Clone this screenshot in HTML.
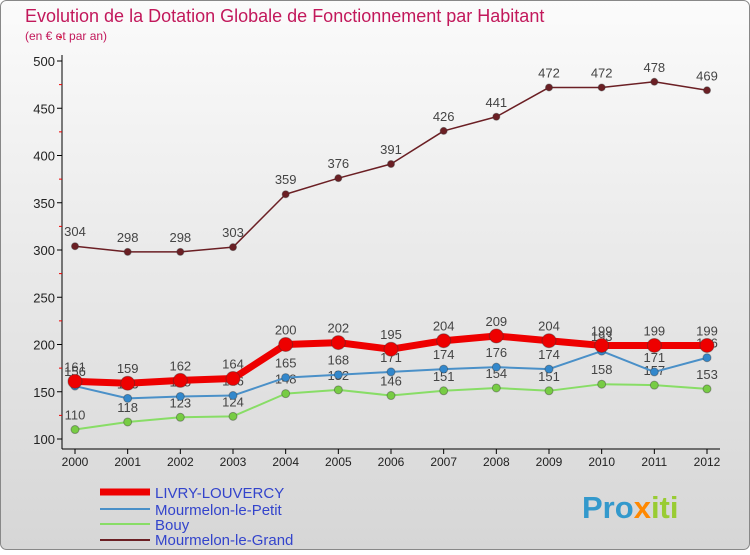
<!DOCTYPE html>
<html><head><meta charset="utf-8"><style>
body{margin:0;width:750px;height:550px;overflow:hidden;font-family:"Liberation Sans",sans-serif}
</style></head><body>
<svg width="750" height="550" xmlns="http://www.w3.org/2000/svg">
<defs><linearGradient id="bg" x1="0" y1="0" x2="0" y2="1"><stop offset="0" stop-color="#fbfbfb"/><stop offset="1" stop-color="#d6d6d6"/></linearGradient></defs>
<rect x="0.5" y="0.5" width="749" height="549" rx="6" fill="url(#bg)" stroke="#888"/>
<text x="25" y="22" font-size="18" fill="#c2185b">Evolution de la Dotation Globale de Fonctionnement par Habitant</text>
<text x="25" y="40" font-size="12" fill="#c2185b">(en € et par an)</text>
<g id="axes"></g><g id="series"></g>
<g>
<line x1="100" y1="492" x2="150" y2="492" stroke="#ee0000" stroke-width="7"/>
<text x="155" y="498" font-size="15" fill="#3344cc">LIVRY-LOUVERCY</text>
<line x1="100" y1="509" x2="150" y2="509" stroke="#4a90c8" stroke-width="2"/>
<text x="155" y="515" font-size="15" fill="#3344cc">Mourmelon-le-Petit</text>
<line x1="100" y1="524" x2="150" y2="524" stroke="#88dd66" stroke-width="2"/>
<text x="155" y="530" font-size="15" fill="#3344cc">Bouy</text>
<line x1="100" y1="540" x2="150" y2="540" stroke="#6b1f24" stroke-width="2"/>
<text x="155" y="545" font-size="15" fill="#3344cc">Mourmelon-le-Grand</text>
</g>
<text x="582" y="518" font-size="31" font-weight="bold" fill="#3399cc">Pro<tspan fill="#ff8800">x</tspan><tspan fill="#99cc33">iti</tspan></text>
</svg>
<script>
const years=["2000","2001","2002","2003","2004","2005","2006","2007","2008","2009","2010","2011","2012"];
const livry=[161,159,162,164,200,202,195,204,209,204,199,199,199];
const petit=[156,143,145,146,165,168,171,174,176,174,193,171,186];
const bouy=[110,118,123,124,148,152,146,151,154,151,158,157,153];
const grand=[304,298,298,303,359,376,391,426,441,472,472,478,469];
const yTicks=[100,150,200,250,300,350,400,450,500];
const NS="http://www.w3.org/2000/svg";
const xs=i=>75+i*(707-75)/12;
const ys=v=>439-(v-100)*(439-61)/400;
function mk(p,t,a){const e=document.createElementNS(NS,t);for(const k in a)e.setAttribute(k,a[k]);p.appendChild(e);return e;}
const ax=document.getElementById('axes');
let l=mk(ax,'line',{x1:62,y1:55,x2:62,y2:449,stroke:'#000'});


l=mk(ax,'line',{x1:62,y1:449,x2:720,y2:449,stroke:'#000'});


yTicks.forEach(v=>{const y=ys(v);
mk(ax,'line',{x1:57,y1:y,x2:62,y2:y,stroke:'#000'});
mk(ax,'line',{x1:59,y1:ys(v+25),x2:62,y2:ys(v+25),stroke:'#e00'});
const t=mk(ax,'text',{x:55,y:y+5,'font-size':13,'text-anchor':'end',fill:'#222'});t.textContent=v;

});
years.forEach((yr,i)=>{const x=xs(i);mk(ax,'line',{x1:x,y1:449,x2:x,y2:454,stroke:'#000'});
const t=mk(ax,'text',{x:x,y:466,'font-size':12,'text-anchor':'middle',fill:'#222'});t.textContent=yr;

});
const sg=document.getElementById('series');
function draw(name,d,col,w,r,dotCol){
const g=mk(sg,'g',{});


const pl=mk(g,'polyline',{points:d.map((v,i)=>xs(i)+','+ys(v)).join(' '),fill:'none',stroke:col,'stroke-width':w,'stroke-linejoin':'round'});


d.forEach((v,i)=>{const c=mk(g,'circle',{cx:xs(i),cy:ys(v),r:r,fill:dotCol,stroke:'#333','stroke-opacity':0.4});


const t=mk(g,'text',{x:xs(i),y:ys(v)-10,'font-size':13,'text-anchor':'middle',fill:'#444'});t.textContent=v;

});}
draw('bouy',bouy,'#88dd66',2,4,'#77cc44');
draw('petit',petit,'#4a90c8',2,4,'#3388cc');
draw('livry',livry,'#ee0000',7,7,'#ee0000');
draw('grand',grand,'#6b1f24',1.5,3.5,'#6b1f24');
</script>
</body></html>
